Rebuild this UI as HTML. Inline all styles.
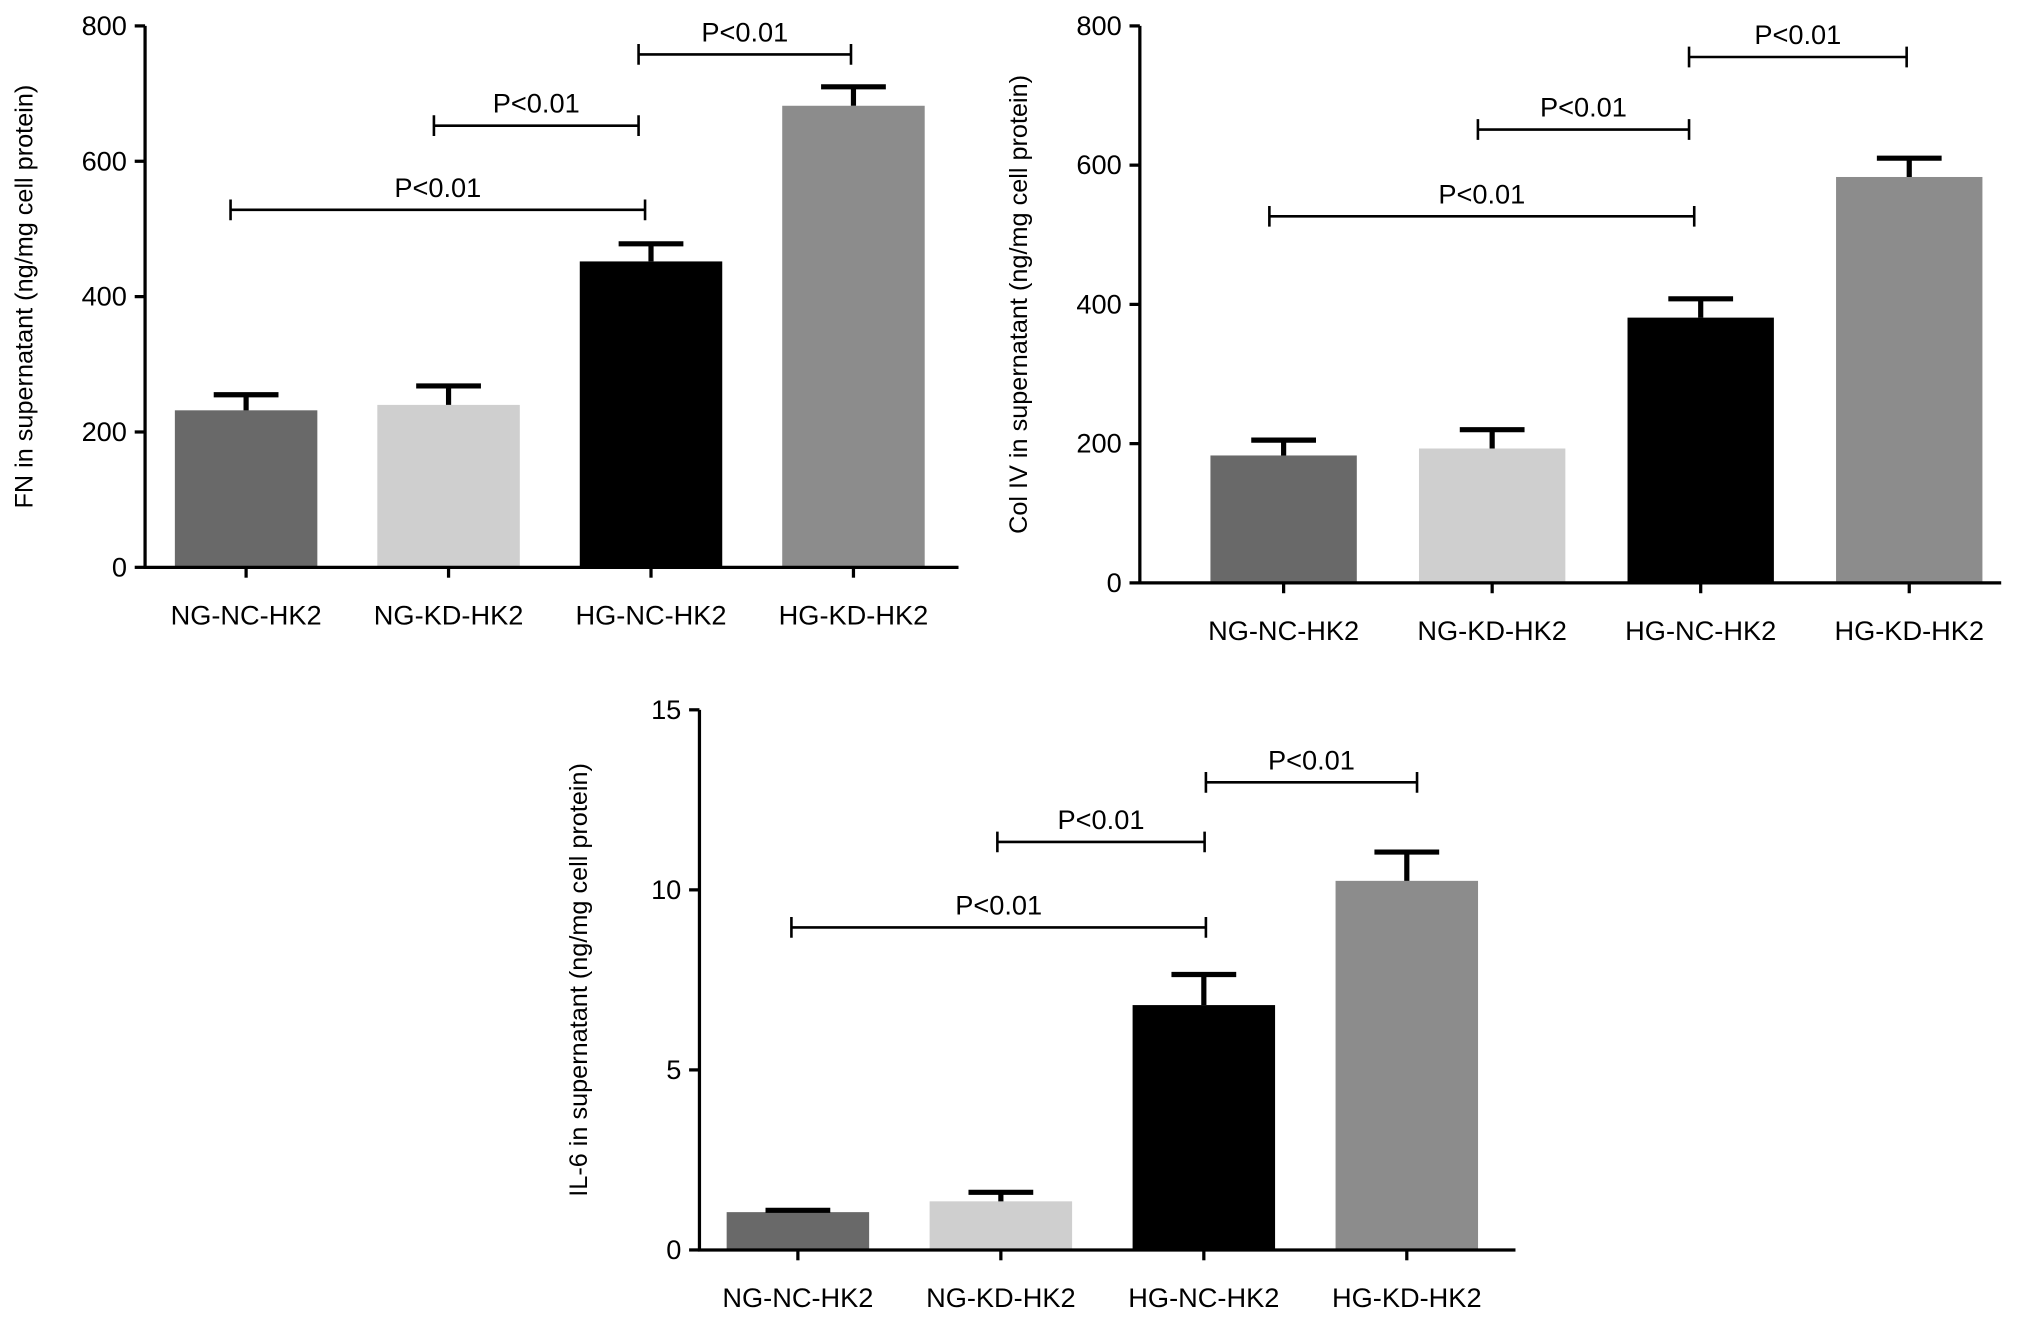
<!DOCTYPE html>
<html><head><meta charset="utf-8"><style>
html,body{margin:0;padding:0;background:#fff}
svg{display:block}
text{font-family:"Liberation Sans",Arial,sans-serif;fill:#000}
</style></head><body>
<svg id="chart" width="2031" height="1323" viewBox="0 0 1568 1021.4" xmlns="http://www.w3.org/2000/svg"></svg>
<script>
const categories = ["NG-NC-HK2","NG-KD-HK2","HG-NC-HK2","HG-KD-HK2"];
const colors = ["#696969","#cfcfcf","#000000","#8c8c8c"];
const fnValues = [232, 240, 452, 682];
const fnErrors = [255, 268, 478, 710];
const fnTicks = [0,200,400,600,800];
const colValues = [183, 193, 381, 583];
const colErrors = [205, 220, 408, 610];
const colTicks = [0,200,400,600,800];
const il6Values = [1.05, 1.35, 6.8, 10.25];
const il6Errors = [1.1, 1.6, 7.65, 11.05];
const il6Ticks = [0,5,10,15];
const pLabel = "P<0.01";

const svg = document.getElementById('chart');
const NS = "http://www.w3.org/2000/svg";
function mk(tag, attrs, parent){const e=document.createElementNS(NS,tag);for(const k in attrs)e.setAttribute(k,attrs[k]);(parent||svg).appendChild(e);return e;}

function panel(name, p, values, errors, ticks, title){
  const g = mk('g',{});
  
  
  const max = ticks[ticks.length-1];
  const y = v => p.y0 - (v/max)*(p.y0-p.yTop);
  const cx = i => p.c0 + p.step*i;
  const bw = p.bw;
  values.forEach((v,i)=>{
    const top=y(v);
    const r = mk('rect',{x:cx(i)-bw/2,y:top,width:bw,height:p.y0-top,fill:colors[i]},g);
    
    
    const ey=y(errors[i]);
    const el = mk('path',{d:`M${cx(i)} ${top} V${ey} M${cx(i)-25} ${ey} H${cx(i)+25}`,stroke:'#000','stroke-width':4,fill:'none'},g);
    
    
  });
  mk('path',{d:`M${p.x0} ${p.yTop} V${p.y0} H${p.xEnd}`,stroke:'#000','stroke-width':2.5,fill:'none'},g);
  ticks.forEach(t=>{
    mk('line',{x1:p.x0-8,x2:p.x0,y1:y(t),y2:y(t),stroke:'#000','stroke-width':2.5},g);
    const tx=mk('text',{x:p.x0-14,y:y(t)+7,'text-anchor':'end','font-size':21},g);
    tx.textContent=t;
    
    
  });
  categories.forEach((c,i)=>{
    mk('line',{x1:cx(i),x2:cx(i),y1:p.y0,y2:p.y0+8,stroke:'#000','stroke-width':2.5},g);
    const tx=mk('text',{x:cx(i),y:p.y0+44,'text-anchor':'middle','font-size':21},g);
    tx.textContent=c;
    
    
  });
  const yt=mk('text',{x:0,y:0,'text-anchor':'middle','font-size':19.5,transform:`translate(${p.x0-87},${(p.y0+p.yTop)/2}) rotate(-90)`},g);
  yt.textContent=title;
  
  
  p.brackets.forEach(b=>{
    const bp=mk('path',{d:`M${b[0]} ${b[2]-8} V${b[2]+8} M${b[0]} ${b[2]} H${b[1]} M${b[1]} ${b[2]-8} V${b[2]+8}`,stroke:'#000','stroke-width':2,fill:'none'},g);
    
    
    const t=mk('text',{x:(b[0]+b[1])/2,y:b[2]-10,'text-anchor':'middle','font-size':21},g);
    t.textContent=pLabel;
    
    
  });
}
panel('fn-panel',{x0:112,xEnd:740,y0:438,yTop:20,c0:190,step:156.3,bw:110,brackets:[[178,498,162],[335,493,97],[493,657,42]]},fnValues,fnErrors,fnTicks,'FN in supernatant (ng/mg cell protein)');
panel('col-iv-panel',{x0:880,xEnd:1545,y0:450,yTop:20,c0:991,step:161,bw:113,brackets:[[980,1308,167],[1141,1304,100],[1304,1472,44]]},colValues,colErrors,colTicks,'Col IV in supernatant (ng/mg cell protein)');
panel('il6-panel',{x0:540,xEnd:1170,y0:965,yTop:548,c0:616,step:156.7,bw:110,brackets:[[611,931,716],[770,930,650],[931,1094,604]]},il6Values,il6Errors,il6Ticks,'IL-6 in supernatant (ng/mg cell protein)');
</script>
</body></html>
